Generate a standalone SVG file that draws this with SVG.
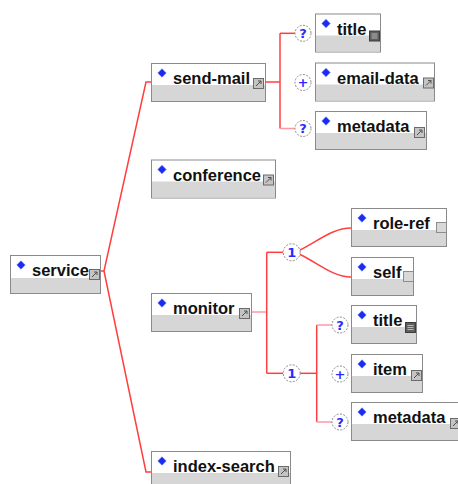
<svg xmlns="http://www.w3.org/2000/svg" width="458" height="484" viewBox="0 0 458 484">
  <style>
    .frame { fill: #ffffff; stroke: #8a8a8a; stroke-width: 1; }
    .band { fill: #d6d6d6; }
    .label { font-family: "Liberation Sans", Arial, sans-serif; font-weight: bold; font-size: 16.5px; fill: #111111; }
    .dia { fill: #1a2cf0; stroke: #5a6cff; stroke-width: 0.6; }
    .wire { fill: none; stroke: #ff3f3f; stroke-width: 1.5; }
    .wire.soft { stroke: #ff97a8; }
    .occ { fill: #ffffff; stroke: #8c8c8c; stroke-width: 1; stroke-dasharray: 2 1.4; }
    .occ-t { font-family: "DejaVu Sans", Verdana, sans-serif; font-weight: bold; font-size: 13px; fill: #2a2aff; text-anchor: middle; }
  </style>
  <defs>
    <!-- reference-type marker -->
    <g id="ico-ref">
      <rect x="0.5" y="0.5" width="10" height="10" fill="#c4c4c4" stroke="#6a6a6a"/>
      <path d="M3,8 L8,3 M5,3 H8 V6" fill="none" stroke="#505050" stroke-width="1"/>
    </g>
    <!-- simple-content marker -->
    <g id="ico-txt">
      <rect x="0.5" y="0.5" width="10" height="10" fill="#5e5e5e" stroke="#3c3c3c"/>
      <path d="M2.5,3.5 H8.5 M2.5,5.5 H8.5 M2.5,7.5 H8.5" stroke="#d0d0d0" stroke-width="0.8"/>
    </g>
    <!-- empty marker -->
    <g id="ico-empty">
      <rect x="0.5" y="0.5" width="10" height="10" fill="#d8d8d8" stroke="#8c8c8c"/>
    </g>
    <path id="diamond" d="M0,-4.2 L4.2,0 L0,4.2 L-4.2,0 Z"/>
  </defs>

  <!-- connectors -->
  <g id="connectors">
    <path class="wire" d="M101,271 L104,271 L146,82 L151,82"/>
    <path class="wire" d="M104,271 L146,472 L151,472"/>

    <path class="wire" d="M266,82 H280"/>
    <path class="wire" d="M280,33.3 V128.5"/>
    <path class="wire" d="M280,33.3 H295"/>
    <path class="wire soft" d="M280,128.5 H295"/>

    <path class="wire soft" d="M252,312 H266.7"/>
    <path class="wire" d="M266.7,252.3 V373.3"/>
    <path class="wire" d="M266.7,252.3 H283"/>
    <path class="wire" d="M266.7,373.3 H283"/>

    <path class="wire" d="M300,250 C318,241 333,228 351,228"/>
    <path class="wire" d="M300,254.5 C318,263 333,277 351,277"/>

    <path class="wire" d="M300,373.3 H316.7"/>
    <path class="wire" d="M316.7,325 V422"/>
    <path class="wire soft" d="M316.7,325 H332"/>
    <path class="wire soft" d="M316.7,422 H332"/>
  </g>

  <!-- occurrence indicators -->
  <g id="occurrences">
    <circle class="occ" cx="303" cy="33.3" r="8"/><text class="occ-t" x="303" y="38">?</text>
    <circle class="occ" cx="303" cy="82.5" r="8"/><text class="occ-t" x="303" y="87.2">+</text>
    <circle class="occ" cx="303" cy="128.5" r="8"/><text class="occ-t" x="303" y="133.2">?</text>
    <circle class="occ" cx="291.7" cy="252.3" r="8.5"/><text class="occ-t" x="291.7" y="257">1</text>
    <circle class="occ" cx="291.7" cy="373.3" r="8.5"/><text class="occ-t" x="291.7" y="378">1</text>
    <circle class="occ" cx="340" cy="325" r="8"/><text class="occ-t" x="340" y="329.7">?</text>
    <circle class="occ" cx="340" cy="374" r="8"/><text class="occ-t" x="340" y="378.7">+</text>
    <circle class="occ" cx="340" cy="422" r="8"/><text class="occ-t" x="340" y="426.7">?</text>
  </g>

  <!-- element nodes -->
  <g id="service" transform="translate(10,255)">
    <rect class="frame" x="0.5" y="0.5" width="90" height="38"/>
    <rect class="band" x="1" y="23" width="89" height="15"/>
    <use href="#diamond" class="dia" x="11" y="10"/>
    <text class="label" x="22" y="21">service</text>
    <use href="#ico-ref" x="79" y="14"/>
  </g>

  <g id="send-mail" transform="translate(151,63)">
    <rect class="frame" x="0.5" y="0.5" width="114" height="38"/>
    <rect class="band" x="1" y="22" width="113" height="16"/>
    <use href="#diamond" class="dia" x="11" y="10"/>
    <text class="label" x="22" y="21">send-mail</text>
    <use href="#ico-ref" x="102" y="15"/>
  </g>

  <g id="conference" transform="translate(151,159.5)">
    <rect class="frame" x="0.5" y="0.5" width="124" height="38"/>
    <rect class="band" x="1" y="22" width="123" height="16"/>
    <use href="#diamond" class="dia" x="11" y="10"/>
    <text class="label" x="22" y="21">conference</text>
    <use href="#ico-ref" x="112" y="15"/>
  </g>

  <g id="monitor" transform="translate(151,293)">
    <rect class="frame" x="0.5" y="0.5" width="100" height="38"/>
    <rect class="band" x="1" y="22" width="99" height="16"/>
    <use href="#diamond" class="dia" x="11" y="10"/>
    <text class="label" x="22" y="21">monitor</text>
    <use href="#ico-ref" x="88" y="15"/>
  </g>

  <g id="index-search" transform="translate(151,451)">
    <rect class="frame" x="0.5" y="0.5" width="139" height="38"/>
    <rect class="band" x="1" y="22" width="138" height="16"/>
    <use href="#diamond" class="dia" x="11" y="10"/>
    <text class="label" x="22" y="21">index-search</text>
    <use href="#ico-ref" x="127" y="15"/>
  </g>

  <g id="title-a" transform="translate(315,13.5)">
    <rect class="frame" x="0.5" y="0.5" width="65" height="38"/>
    <rect class="band" x="1" y="22" width="64" height="16"/>
    <use href="#diamond" class="dia" x="11" y="10"/>
    <text class="label" x="22" y="21">title</text>
    <use href="#ico-txt" x="54" y="17"/>
  </g>

  <g id="email-data" transform="translate(315,62.5)">
    <rect class="frame" x="0.5" y="0.5" width="119" height="38"/>
    <rect class="band" x="1" y="22" width="118" height="16"/>
    <use href="#diamond" class="dia" x="11" y="10"/>
    <text class="label" x="22" y="21">email-data</text>
    <use href="#ico-ref" x="108" y="15"/>
  </g>

  <g id="metadata-a" transform="translate(315,111)">
    <rect class="frame" x="0.5" y="0.5" width="111" height="38"/>
    <rect class="band" x="1" y="22" width="110" height="16"/>
    <use href="#diamond" class="dia" x="11" y="10"/>
    <text class="label" x="22" y="21">metadata</text>
    <use href="#ico-ref" x="99" y="16"/>
  </g>

  <g id="role-ref" transform="translate(351,208)">
    <rect class="frame" x="0.5" y="0.5" width="95" height="38"/>
    <rect class="band" x="1" y="22" width="94" height="16"/>
    <use href="#diamond" class="dia" x="11" y="10"/>
    <text class="label" x="22" y="21">role-ref</text>
    <use href="#ico-empty" x="85" y="14"/>
  </g>

  <g id="self" transform="translate(351,257)">
    <rect class="frame" x="0.5" y="0.5" width="62" height="38"/>
    <rect class="band" x="1" y="22" width="61" height="16"/>
    <use href="#diamond" class="dia" x="11" y="10"/>
    <text class="label" x="22" y="21">self</text>
    <use href="#ico-empty" x="52" y="14"/>
  </g>

  <g id="title-b" transform="translate(351,305)">
    <rect class="frame" x="0.5" y="0.5" width="65" height="38"/>
    <rect class="band" x="1" y="22" width="64" height="16"/>
    <use href="#diamond" class="dia" x="11" y="10"/>
    <text class="label" x="22" y="21">title</text>
    <use href="#ico-txt" x="54" y="17"/>
  </g>

  <g id="item" transform="translate(351,354)">
    <rect class="frame" x="0.5" y="0.5" width="71" height="38"/>
    <rect class="band" x="1" y="22" width="70" height="16"/>
    <use href="#diamond" class="dia" x="11" y="10"/>
    <text class="label" x="22" y="21">item</text>
    <use href="#ico-ref" x="60" y="16"/>
  </g>

  <g id="metadata-b" transform="translate(351,402)">
    <rect class="frame" x="0.5" y="0.5" width="111" height="38"/>
    <rect class="band" x="1" y="22" width="110" height="16"/>
    <use href="#diamond" class="dia" x="11" y="10"/>
    <text class="label" x="22" y="21">metadata</text>
    <use href="#ico-ref" x="99" y="16"/>
  </g>
</svg>
